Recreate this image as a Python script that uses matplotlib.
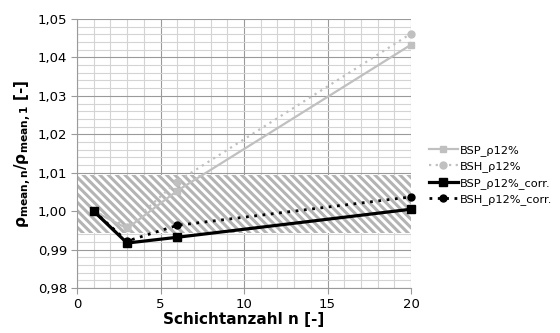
import matplotlib
matplotlib.use("Agg")
import matplotlib.pyplot as plt
from matplotlib.ticker import MultipleLocator

plt.rcParams['font.family'] = ['DejaVu Sans']
plt.rcParams['mathtext.fontset'] = 'dejavusans'
plt.rcParams['hatch.linewidth'] = 2.2
plt.rcParams['hatch.color'] = '#b4b4b4'

n = [1, 3, 6, 20]
bsp = [1.000, 0.9955, 1.0053, 1.0433]
bsh = [1.000, 0.9960, 1.0077, 1.0462]
bsp_corr = [1.000, 0.9917, 0.9932, 1.0005]
bsh_corr = [1.000, 0.9922, 0.9963, 1.0037]
band = [0.9944, 1.0094]

xticks = [0, 5, 10, 15, 20]
yticks = [0.98, 0.99, 1.00, 1.01, 1.02, 1.03, 1.04, 1.05]
ytick_labels = ['0,98', '0,99', '1,00', '1,01', '1,02', '1,03', '1,04', '1,05']

fig = plt.figure(figsize=(5.6, 3.33), dpi=100)
ax = fig.add_axes([77/560, 1-288/333, (411-77)/560, (288-19)/333])

ax.set_xlim(0, 20)
ax.set_ylim(0.98, 1.05)
ax.xaxis.set_minor_locator(MultipleLocator(1))
ax.yaxis.set_minor_locator(MultipleLocator(0.002))
ax.set_xticks(xticks)
ax.set_yticks(yticks)
ax.set_yticklabels(ytick_labels)
ax.grid(which='minor', color='#d4d4d4', lw=0.8, zorder=0)
ax.grid(which='major', color='#9a9a9a', lw=0.8, zorder=0)
ax.set_axisbelow(True)
ax.tick_params(which='minor', length=0)
ax.tick_params(which='major', length=4, color='#9a9a9a', labelsize=9.5, pad=3)
for s in ['top', 'right']:
    ax.spines[s].set_visible(False)
for s in ['left', 'bottom']:
    ax.spines[s].set_color('#9a9a9a')

ax.fill_between([0, 20], band[0], band[1], facecolor='white', edgecolor='#b4b4b4',
                hatch='\\\\\\\\', lw=0, zorder=1)

ax.plot(n, bsp, color='#c0c0c0', lw=1.6, marker='s', ms=5, label='BSP_\u03c112%', zorder=3, clip_on=False)
ax.plot(n, bsh, color='#c0c0c0', lw=1.6, ls=(0, (1, 2)), marker='o', ms=5, label='BSH_\u03c112%', zorder=3, clip_on=False)
ax.plot(n, bsp_corr, color='black', lw=2.3, marker='s', ms=6, label='BSP_\u03c112%_corr.', zorder=4, clip_on=False)
ax.plot(n, bsh_corr, color='black', lw=2.0, ls=(0, (1, 2)), marker='o', ms=5, label='BSH_\u03c112%_corr.', zorder=4, clip_on=False)

ax.set_xlabel('Schichtanzahl n [-]', fontsize=11, fontweight='bold', labelpad=1)
ax.set_ylabel(r'$\mathbf{\rho_{mean,n}/\rho_{mean,1}}$ [-]',
              fontsize=11, fontweight='bold', labelpad=3)

fig.legend(loc='center left', bbox_to_anchor=(419/560, 1-175/333), frameon=False,
           fontsize=8.2, handlelength=2.5, handletextpad=0.2, labelspacing=0.5)

fig.savefig('out.png', dpi=100)
